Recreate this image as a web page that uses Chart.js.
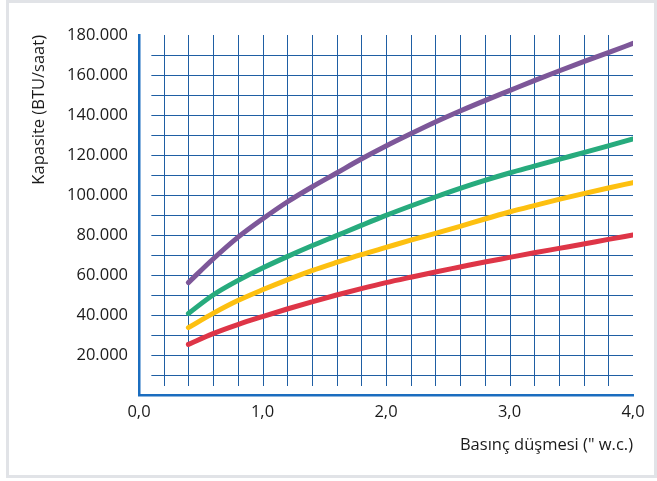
<!DOCTYPE html>
<html lang="tr">
<head>
    <meta charset="UTF-8">
    <title>Kapasite - Basınç düşmesi</title>
    <script src="https://cdn.jsdelivr.net/npm/chart.js"></script>
    <style>
        html, body {
            margin: 0;
            padding: 0;
            background: #ffffff;
        }

        .cerceve {
            position: absolute;
            left: 6px;
            top: 0;
            width: 651px;
            height: 478px;
            box-sizing: border-box;
            border: 3px solid #e1e3e7;
        }

        #grafik {
            position: absolute;
            left: 0;
            top: 0;
        }
    </style>
</head>
<body>
    <div class="cerceve"></div>
    <canvas id="grafik" width="657" height="481"></canvas>

    <script>
        // veriler
        const basinc = [0.4, 0.6, 0.8, 1.0, 1.2, 1.4, 1.6, 1.8, 2.0, 2.2, 2.4, 2.6, 2.8, 3.0, 3.2, 3.4, 3.6, 3.8, 4.0];
        const seriKirmizi = [25300, 30700, 35200, 39200, 43000, 46600, 50000, 53200, 56200, 58900, 61500, 64000, 66500, 68800, 71100, 73300, 75500, 77800, 80000];
        const seriSari = [33700, 40800, 47200, 52600, 57600, 62200, 66300, 70200, 73800, 77400, 80800, 84300, 88000, 91500, 94700, 97800, 100700, 103500, 106200];
        const seriYesil = [40800, 50000, 57200, 63500, 69200, 74600, 79700, 84800, 89800, 94500, 99000, 103300, 107300, 111000, 114400, 117800, 121200, 124600, 128000];
        const seriMor = [56200, 68000, 78800, 88000, 96500, 104000, 111000, 118000, 124500, 130600, 136500, 142000, 147200, 152200, 157200, 162000, 166700, 171200, 175800];

        const xEtiketleri = [0, 1, 2, 3, 4];
        const yEtiketleri = [20000, 40000, 60000, 80000, 100000, 120000, 140000, 160000, 180000];

        const yaziTipi = "'Open Sans', sans-serif";

        function noktalar(seri) {
            return basinc.map((x, i) => ({ x: x, y: seri[i] }));
        }

        function binlik(v) {
            return String(v).replace(/\B(?=(\d{3})+(?!\d))/g, ".");
        }

        // ızgara çizgileri: eksenlere değmeyen ince mavi çizgiler
        const izgara = {
            id: "izgara",
            beforeDatasetsDraw(chart) {
                const ctx = chart.ctx;
                const x = chart.scales.x;
                const y = chart.scales.y;
                ctx.save();
                ctx.strokeStyle = "#1f5ea3";
                ctx.lineWidth = 1;
                ctx.beginPath();
                for (let k = 1; k <= 19; k++) {
                    const px = Math.round(x.getPixelForValue(k * 0.2)) + 0.5;
                    ctx.moveTo(px, y.getPixelForValue(180000));
                    ctx.lineTo(px, y.getPixelForValue(4500));
                }
                for (let k = 1; k <= 17; k++) {
                    const py = Math.round(y.getPixelForValue(k * 10000)) + 0.5;
                    ctx.moveTo(x.getPixelForValue(0.1), py);
                    ctx.lineTo(x.getPixelForValue(4), py);
                }
                ctx.stroke();
                ctx.restore();
            }
        };

        function seri(etiket, veri, renk) {
            return {
                label: etiket,
                data: noktalar(veri),
                borderColor: renk,
                backgroundColor: renk,
                borderWidth: 5,
                borderCapStyle: "round",
                pointRadius: 0,
                cubicInterpolationMode: "monotone",
                fill: false
            };
        }

        new Chart(document.getElementById("grafik").getContext("2d"), {
            type: "line",
            data: {
                datasets: [
                    seri("Seri 1", seriKirmizi, "#de3547"),
                    seri("Seri 2", seriSari, "#fdc010"),
                    seri("Seri 3", seriYesil, "#27ab7d"),
                    seri("Seri 4", seriMor, "#7d5799")
                ]
            },
            options: {
                responsive: false,
                animation: false,
                layout: { padding: { left: 0, top: 35, right: 24, bottom: 0 } },
                plugins: {
                    legend: { display: false },
                    tooltip: { enabled: false }
                },
                scales: {
                    x: {
                        type: "linear",
                        min: 0,
                        max: 4,
                        afterFit(scale) { scale.height = 86; },
                        afterBuildTicks(scale) {
                            scale.ticks = xEtiketleri.map(v => ({ value: v }));
                        },
                        grid: { display: false, drawTicks: false },
                        border: { display: true, color: "#1b6dbf", width: 2.5 },
                        ticks: {
                            padding: 7,
                            color: "#1a1a1a",
                            font: { family: yaziTipi, size: 16.5 },
                            callback: v => v.toFixed(1).replace(".", ",")
                        },
                        title: {
                            display: true,
                            text: "Basınç düşmesi (\" w.c.)",
                            align: "end",
                            color: "#1a1a1a",
                            font: { family: yaziTipi, size: 16.5 },
                            padding: { top: 0, bottom: 26 }
                        }
                    },
                    y: {
                        min: 0,
                        max: 180000,
                        afterFit(scale) { scale.width = 139; },
                        afterBuildTicks(scale) {
                            scale.ticks = yEtiketleri.map(v => ({ value: v }));
                        },
                        grid: { display: false, drawTicks: false },
                        border: { display: true, color: "#1b6dbf", width: 2.5 },
                        ticks: {
                            padding: 11,
                            color: "#1a1a1a",
                            font: { family: yaziTipi, size: 16.5 },
                            callback: v => binlik(v)
                        },
                        title: {
                            display: true,
                            text: "Kapasite (BTU/saat)",
                            align: "end",
                            color: "#1a1a1a",
                            font: { family: yaziTipi, size: 16.5 },
                            padding: { top: 29, bottom: 0 }
                        }
                    }
                }
            },
            plugins: [izgara]
        });
    </script>
</body>
</html>
